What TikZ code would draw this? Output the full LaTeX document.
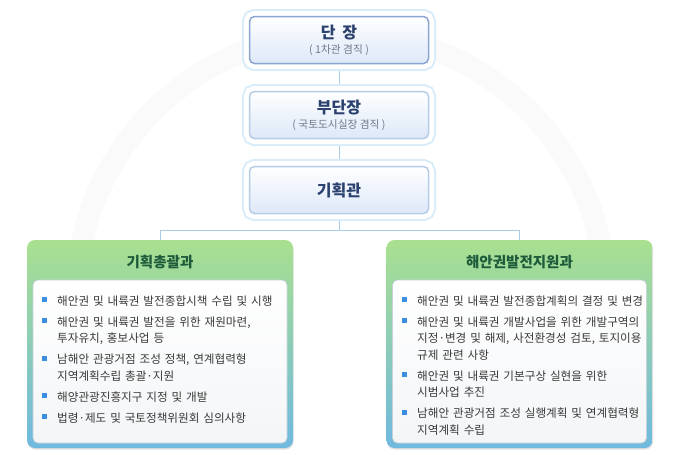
\documentclass[tikz,border=0pt]{standalone}
\usepackage{fontspec}
\setmainfont{Noto Sans CJK KR}
\usetikzlibrary{positioning,backgrounds,shadows}
\definecolor{chiefnavy}{RGB}{43,65,110}
\definecolor{subgray}{RGB}{112,122,138}
\definecolor{chiefline}{RGB}{138,165,207}
\definecolor{deputyline}{RGB}{181,203,231}
\definecolor{chieffill}{RGB}{221,232,248}
\definecolor{chiefglow}{RGB}{216,236,250}
\definecolor{linkblue}{RGB}{169,205,233}
\definecolor{deptgreen}{RGB}{169,224,143}
\definecolor{deptteal}{RGB}{143,209,191}
\definecolor{deptblue}{RGB}{111,185,224}
\definecolor{deptink}{RGB}{30,91,59}
\definecolor{paneledge}{RGB}{201,209,216}
\definecolor{panelfoot}{RGB}{243,245,247}
\definecolor{bulletblue}{RGB}{59,141,224}
\definecolor{itemink}{RGB}{58,58,58}
\definecolor{ringgray}{RGB}{250,250,250}
\newcommand{\dutyitem}[1]{\par\hangindent=15pt\hangafter=1\noindent
  \makebox[15pt][l]{\textcolor{bulletblue}{\rule[2.8pt]{5pt}{5pt}}}#1\par}

\begin{document}
\begin{tikzpicture}[x=1pt,y=-1pt,
  chief/.style={rectangle,rounded corners=5pt,draw=chiefline,line width=1.5pt,
    top color=white,bottom color=chieffill,minimum width=179pt,minimum height=47pt,
    align=center,text=chiefnavy,
    preaction={draw=chiefglow,line width=15pt},
    preaction={draw=white,line width=11pt}},
  deputy/.style={chief,draw=deputyline},
  dept/.style={rectangle,rounded corners=8pt,minimum width=266pt,minimum height=208pt,
    top color=deptgreen,middle color=deptteal,bottom color=deptblue,
    drop shadow={opacity=.25,shadow xshift=.5pt,shadow yshift=-1.5pt}},
  depttitle/.style={font=\fontsize{14.5pt}{16pt}\selectfont\bfseries,text=deptink},
  panel/.style={rectangle,rounded corners=5pt,draw=paneledge,line width=.8pt,
    top color=white,bottom color=panelfoot,minimum width=254pt,minimum height=163pt},
  duties/.style={anchor=north west,inner sep=0pt,text width=252pt,text=itemink,
    font=\fontsize{11.6pt}{16.5pt}\selectfont,
    execute at begin node=\setlength{\parskip}{4.5pt}},
  link/.style={draw=linkblue,line width=.8pt}]
\useasboundingbox (0,0) rectangle (680,455);

% head office
\node[chief] (dan) at (339,40)
  {\fontsize{16pt}{18pt}\selectfont\bfseries 단\hspace{3pt} 장\\[3pt]
   {\fontsize{10.7pt}{12pt}\selectfont\mdseries\color{subgray}( 1차관 겸직 )}};
\node[deputy] (budan) at (339,115)
  {\fontsize{16pt}{18pt}\selectfont\bfseries 부단장\\[3pt]
   {\fontsize{10.7pt}{12pt}\selectfont\mdseries\color{subgray}( 국토도시실장 겸직 )}};
\node[deputy] (gihoek) at (339,190)
  {\fontsize{16pt}{18pt}\selectfont\bfseries 기획관};

% divisions
\node[dept] (plan) at (160,344) {};
\node[depttitle] (planhead) at (160,262) {기획총괄과};
\node[panel] (planpanel) at (160,361.5) {};
\node[duties] (planlist) at (42,284)
  {\dutyitem{해안권 및 내륙권 발전종합시책 수립 및 시행}
   \dutyitem{해안권 및 내륙권 발전을 위한 재원마련,\newline 투자유치, 홍보사업 등}
   \dutyitem{남해안 관광거점 조성 정책, 연계협력형\newline 지역계획수립 총괄·지원}
   \dutyitem{해양관광진흥지구 지정 및 개발}
   \dutyitem{법령·제도 및 국토정책위원회 심의사항}};

\node[dept] (coast) at (519.5,344) {};
\node[depttitle] (coasthead) at (519.5,262) {해안권발전지원과};
\node[panel] (coastpanel) at (519.5,361.5) {};
\node[duties] (coastlist) at (402,284)
  {\dutyitem{해안권 및 내륙권 발전종합계획의 결정 및 변경}
   \dutyitem{해안권 및 내륙권 개발사업을 위한 개발구역의\newline 지정·변경 및 해제, 사전환경성 검토, 토지이용\newline 규제 관련 사항}
   \dutyitem{해안권 및 내륙권 기본구상 실현을 위한\newline 시범사업 추진}
   \dutyitem{남해안 관광거점 조성 실행계획 및 연계협력형\newline 지역계획 수립}};

\begin{scope}[on background layer]
  \draw[ringgray,line width=22pt] (76,298) arc[start angle=180,end angle=360,radius=265];
  \draw[link] (dan) -- (budan);
  \draw[link] (budan) -- (gihoek);
  \draw[link] (gihoek.south) -- ++(0,16) coordinate (fork);
  \draw[link] (fork) -| (plan.north);
  \draw[link] (fork) -| (coast.north);
\end{scope}
\end{tikzpicture}
\end{document}
